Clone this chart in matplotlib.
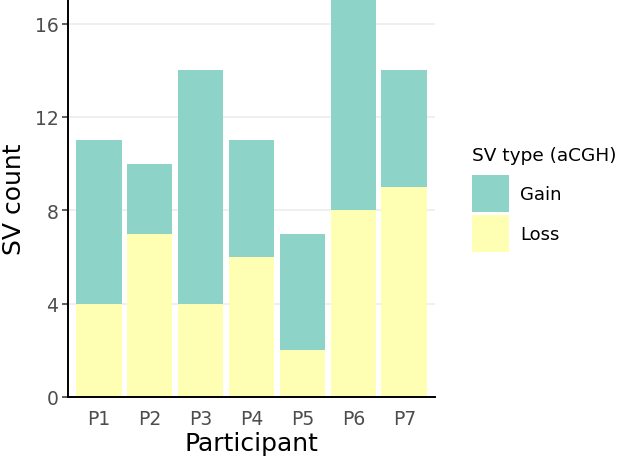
import matplotlib
matplotlib.use("Agg")
import matplotlib.pyplot as plt
from matplotlib.patches import Patch
import numpy as np

participants = ["P1", "P2", "P3", "P4", "P5", "P6", "P7"]
loss = [4, 7, 4, 6, 2, 8, 9]
gain = [7, 3, 10, 5, 5, 9, 5]
yticks = [0, 4, 8, 12, 16]
gain_color = "#8DD3C7"
loss_color = "#FFFFB3"

plt.rcParams['font.family'] = ['DejaVu Sans']
fig = plt.figure(figsize=(6.17, 4.60), dpi=100)
ax = fig.add_axes([68/617, (460-398)/460, (435-68)/617, 398/460])

x = np.arange(1, len(participants) + 1)
ax.bar(x, loss, width=0.9, color=loss_color, zorder=2, label="Loss")
ax.bar(x, gain, bottom=loss, width=0.9, color=gain_color, zorder=2, label="Gain")

ax.set_xlim(0.4, 7.6)
ax.set_ylim(0, 17.05)
ax.set_xticks(x)
ax.set_xticklabels(participants)
ax.set_yticks(yticks)
ax.yaxis.grid(True, color="#EBEBEB", linewidth=1.1, zorder=0)
ax.set_axisbelow(True)
for s in ["top", "right"]:
    ax.spines[s].set_visible(False)
for s in ["left", "bottom"]:
    ax.spines[s].set_linewidth(1.4)
    ax.spines[s].set_color("black")
ax.tick_params(axis="y", length=4, width=1.1, color="#333333", labelsize=13.5, labelcolor="#4D4D4D", pad=3)
ax.tick_params(axis="x", length=0, labelsize=13.5, labelcolor="#4D4D4D", pad=9)
ax.set_xlabel("Participant", fontsize=18, color="black", labelpad=2)
ax.set_ylabel("SV count", fontsize=18, color="black", labelpad=6)

handles = [Patch(facecolor=gain_color, edgecolor="none", label="Gain"),
           Patch(facecolor=loss_color, edgecolor="none", label="Loss")]
leg = fig.legend(handles=handles, title="SV type (aCGH)", loc="upper left",
                 bbox_to_anchor=(472/617, 1 - 147/460), frameon=False,
                 fontsize=13, title_fontsize=13.3, handlelength=2.05, handleheight=2.75,
                 labelspacing=0.2, handletextpad=0.6, borderaxespad=0, borderpad=0)
leg._legend_box.align = "left"
leg._legend_box.sep = 8

fig.savefig("out.png", dpi=100)
